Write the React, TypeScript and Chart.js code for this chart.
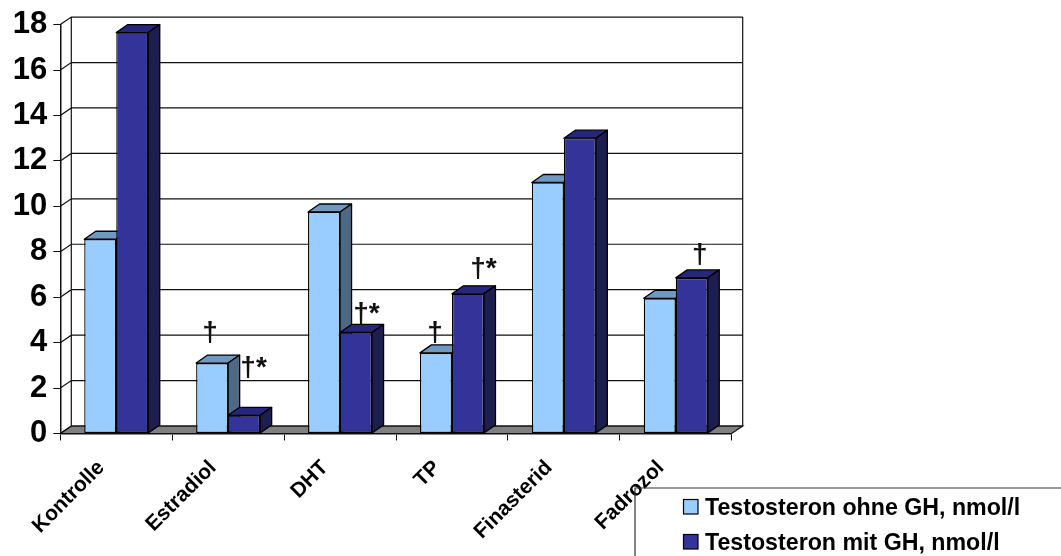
import React, { useEffect, useRef } from "react";
import { Chart, registerables } from "chart.js";

Chart.register(...registerables);

const categories = ["Kontrolle", "Estradiol", "DHT", "TP", "Finasterid", "Fadrozol"];
const seriesNames = ["Testosteron ohne GH, nmol/l", "Testosteron mit GH, nmol/l"];
const ohneGH = [8.55, 3.1, 9.75, 3.55, 11.05, 5.95];
const mitGH = [17.65, 0.8, 4.45, 6.15, 13.0, 6.85];

// Significance marks: category index, series index, text, height on the value axis.
const markCategory = [1, 1, 2, 3, 3, 5];
const markSeries = [0, 1, 1, 0, 1, 1];
const markText = ["†", "†*", "†*", "†", "†*", "†"];
const markLevel = [4.4, 2.85, 5.25, 4.4, 7.25, 7.85];
// Sideways nudge of each mark away from the centre of its bar.
const markNudge = [-2, 4, 5, -1, 10, 8];

const FONT = '"Liberation Sans", Arial, sans-serif';
const WALL_DX = 11;
const WALL_DY = 7.5;
const BAR_DX = 11.5;
const BAR_DY = 8;
const LINE = "#111111";

const frontColors = ["#99CCFF", "#333399"];
const topColors = ["#7099C2", "#26267A"];
const sideColors = ["#4F6884", "#1D1D50"];

// Back wall, side wall and floor of the 3D box behind the bars.
const boxPlugin = {
  id: "box3d",
  beforeDraw(chart: any) {
    const { ctx, chartArea: a, scales } = chart;
    const y = scales.y;
    ctx.save();
    ctx.lineWidth = 1.2;
    ctx.strokeStyle = LINE;

    ctx.fillStyle = "#808080";
    ctx.beginPath();
    ctx.moveTo(a.left, a.bottom);
    ctx.lineTo(a.left + WALL_DX, a.bottom - WALL_DY);
    ctx.lineTo(a.right + WALL_DX, a.bottom - WALL_DY);
    ctx.lineTo(a.right, a.bottom);
    ctx.closePath();
    ctx.fill();
    ctx.stroke();

    ctx.beginPath();
    y.ticks.forEach((t: any) => {
      const py = y.getPixelForValue(t.value);
      ctx.moveTo(a.left, py);
      ctx.lineTo(a.left + WALL_DX, py - WALL_DY);
      ctx.lineTo(a.right + WALL_DX, py - WALL_DY);
    });
    ctx.moveTo(a.left + WALL_DX, a.top - WALL_DY);
    ctx.lineTo(a.left + WALL_DX, a.bottom - WALL_DY);
    ctx.moveTo(a.right + WALL_DX, a.top - WALL_DY);
    ctx.lineTo(a.right + WALL_DX, a.bottom - WALL_DY);
    ctx.stroke();
    ctx.restore();
  },
  // Series are painted left to right, each with its top and side faces underneath its front.
  beforeDatasetsDraw(chart: any) {
    const { ctx } = chart;
    [0, 1].forEach((i) => {
      const meta = chart.getDatasetMeta(i);
      ctx.save();
      ctx.lineWidth = 1.3;
      ctx.strokeStyle = "#000000";
      ctx.lineJoin = "round";
      meta.data.forEach((bar: any) => {
        const p = bar.getProps(["x", "y", "base", "width"], true);
        const l = p.x - p.width / 2;
        const r = p.x + p.width / 2;
        ctx.fillStyle = topColors[i];
        ctx.beginPath();
        ctx.moveTo(l, p.y);
        ctx.lineTo(l + BAR_DX, p.y - BAR_DY);
        ctx.lineTo(r + BAR_DX, p.y - BAR_DY);
        ctx.lineTo(r, p.y);
        ctx.closePath();
        ctx.fill();
        ctx.stroke();
        ctx.fillStyle = sideColors[i];
        ctx.beginPath();
        ctx.moveTo(r, p.y);
        ctx.lineTo(r + BAR_DX, p.y - BAR_DY);
        ctx.lineTo(r + BAR_DX, p.base - BAR_DY);
        ctx.lineTo(r, p.base);
        ctx.closePath();
        ctx.fill();
        ctx.stroke();
      });
      ctx.restore();
      meta.controller.draw();
    });
  },
  // The default reversed dataset pass is replaced by the ordered pass above.
  beforeDatasetDraw() {
    return false;
  },
  afterDraw(chart: any) {
    const { ctx, scales } = chart;
    ctx.save();

    // Significance marks above the bars
    ctx.fillStyle = "#111111";
    ctx.font = `bold 28px ${FONT}`;
    ctx.textAlign = "left";
    ctx.textBaseline = "middle";
    markText.forEach((text, k) => {
      const bar = chart.getDatasetMeta(markSeries[k]).data[markCategory[k]];
      const width = ctx.measureText("†").width;
      ctx.fillText(text, bar.x - width / 2 + markNudge[k], scales.y.getPixelForValue(markLevel[k]));
    });

    // Legend frame, keys and entries
    ctx.strokeStyle = "#333333";
    ctx.lineWidth = 1.2;
    ctx.beginPath();
    ctx.moveTo(635, 556);
    ctx.lineTo(635, 488);
    ctx.lineTo(1061, 488);
    ctx.stroke();

    ctx.font = `bold 23.2px ${FONT}`;
    ctx.textBaseline = "alphabetic";
    seriesNames.forEach((name, k) => {
      const top = 499.5 + k * 35;
      ctx.fillStyle = frontColors[k];
      ctx.fillRect(683.5, top, 14.5, 14.5);
      ctx.strokeStyle = "#000000";
      ctx.strokeRect(683.5, top, 14.5, 14.5);
      ctx.fillStyle = "#000000";
      ctx.fillText(name, 705, top + 15.5);
    });
    ctx.restore();
  },
};

export default function App() {
  const canvasRef = useRef<HTMLCanvasElement>(null);

  useEffect(() => {
    const chart = new Chart(canvasRef.current!, {
      type: "bar",
      data: {
        labels: categories,
        datasets: [ohneGH, mitGH].map((values, i) => ({
          label: seriesNames[i],
          data: values,
          backgroundColor: frontColors[i],
          borderColor: "#000000",
          borderWidth: 1.3,
          borderSkipped: false,
          categoryPercentage: 0.572,
          barPercentage: 1,
        })),
      },
      options: {
        responsive: false,
        animation: false,
        layout: { padding: { top: 23.5, right: 329.3, bottom: 0, left: 0 } },
        plugins: { legend: { display: false }, tooltip: { enabled: false } },
        scales: {
          x: {
            afterFit: (s: any) => {
              s.height = 122.5;
            },
            border: { color: LINE, width: 1.5 },
            grid: { drawOnChartArea: false, color: LINE, tickLength: 7, offset: true },
            ticks: {
              autoSkip: false,
              minRotation: 45,
              maxRotation: 45,
              padding: 15,
              labelOffset: -15,
              color: "#000000",
              font: { family: FONT, size: 21, weight: "bold" },
            },
          },
          y: {
            min: 0,
            max: 18,
            afterFit: (s: any) => {
              s.width = 60.3;
            },
            border: { color: LINE, width: 1.5 },
            grid: { drawOnChartArea: false, color: LINE, tickLength: 7 },
            ticks: {
              stepSize: 2,
              padding: 6,
              color: "#000000",
              font: { family: FONT, size: 31, weight: "bold" },
            },
          },
        },
      },
      plugins: [boxPlugin],
    } as any);
    return () => chart.destroy();
  }, []);

  return (
    <canvas
      ref={canvasRef}
      width={1061}
      height={556}
      style={{ position: "fixed", left: 0, top: 0, width: 1061, height: 556, display: "block" }}
    />
  );
}
